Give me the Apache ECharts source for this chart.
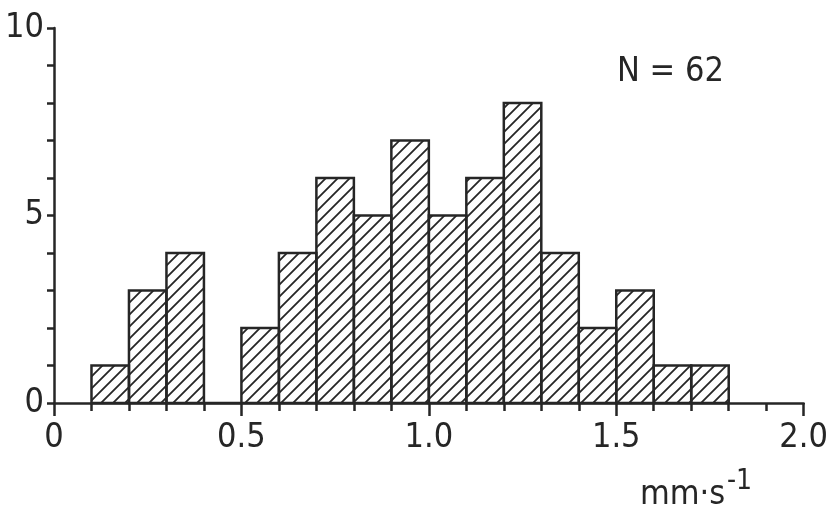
<!DOCTYPE html>
<html><head><meta charset="utf-8">
<script src="https://cdn.jsdelivr.net/npm/echarts@6/dist/echarts.min.js"></script>
<style>html,body{margin:0;padding:0;background:#fff}#c{width:831px;height:522px}</style>
</head><body><div id="c"></div>
<script>
// ---- data ----
const binStarts = [0.1,0.2,0.3,0.4,0.5,0.6,0.7,0.8,0.9,1.0,1.1,1.2,1.3,1.4,1.5,1.6,1.7];
const binWidth = 0.1;
const counts = [1,3,4,0,2,4,6,5,7,5,6,8,4,2,3,1,1];
const xTickLabels = ['0','0.5','1.0','1.5','2.0'];
const yTickLabels = [0,5,10];
const sampleNote = 'N = 62';
const unitBase = 'mm·s';
const unitExp = '-1';

const INK = '#262626';
const FONT = "'Liberation Sans Narrow','DejaVu Sans Condensed','Liberation Sans',sans-serif";

function makeHatch(){
  const s = 12;
  const c = document.createElement('canvas');
  c.width = s; c.height = s;
  const g = c.getContext('2d');
  g.strokeStyle = INK; g.lineWidth = 1.8;
  g.beginPath();
  g.moveTo(0, s); g.lineTo(s, 0);
  g.moveTo(-2, 2); g.lineTo(2, -2);
  g.moveTo(s-2, s+2); g.lineTo(s+2, s-2);
  g.stroke();
  return c;
}
const hatch = {image: makeHatch(), repeat: 'repeat'};

const barData = binStarts.map((s,i) => [s, +(s+binWidth).toFixed(2), counts[i]]);

const chart = echarts.init(document.getElementById('c'), null, {renderer:'canvas'});
chart.setOption({
  animation: false,
  backgroundColor: '#fff',
  grid: {left: 54, right: 24, top: 28, bottom: 119, containLabel: false},
  xAxis: [
    {type:'value', min:0, max:2, interval:0.5, position:'bottom',
     axisLine:{show:true, onZero:false, lineStyle:{color:INK, width:2.5}},
     axisTick:{show:true, length:13, lineStyle:{color:INK, width:2.5}},
     splitLine:{show:false},
     axisLabel:{margin:18, color:INK, fontSize:34, fontFamily:FONT,
       formatter: v => xTickLabels[Math.round(v/0.5)] }},
    {type:'value', min:0, max:2, interval:0.1, position:'bottom',
     axisLine:{show:false}, splitLine:{show:false}, axisLabel:{show:false},
     axisTick:{show:true, length:8, lineStyle:{color:INK, width:2.5}}}
  ],
  yAxis: {type:'value', min:0, max:10, interval:1,
    axisLine:{show:true, onZero:false, lineStyle:{color:INK, width:2.5}},
    axisTick:{show:true, length:7, lineStyle:{color:INK, width:2.5}},
    splitLine:{show:false},
    axisLabel:{margin:10, color:INK, fontSize:34, fontFamily:FONT,
      formatter: v => yTickLabels.includes(Math.round(v)) ? String(Math.round(v)) : ''}},
  series: [{
    type:'custom', xAxisIndex:0, yAxisIndex:0,
    data: barData,
    encode:{x:[0,1], y:2},
    renderItem: function(params, api){
      const lo = api.coord([api.value(0), 0]);
      const hi = api.coord([api.value(1), api.value(2)]);
      return {type:'rect',
        shape:{x:lo[0], y:hi[1], width:hi[0]-lo[0], height:lo[1]-hi[1]},
        style:{fill:hatch, stroke:INK, lineWidth:2.5}};
    }
  }],
  graphic: [
    {type:'text', left:617, top:55, style:{text:sampleNote, fill:INK, font:'34px '+FONT}},
    {type:'text', left:640, top:478, style:{text:unitBase, fill:INK, font:'34px '+FONT}},
    {type:'text', left:727, top:468, style:{text:unitExp, fill:INK, font:'28px '+FONT}}
  ]
});
</script>
</body></html>
